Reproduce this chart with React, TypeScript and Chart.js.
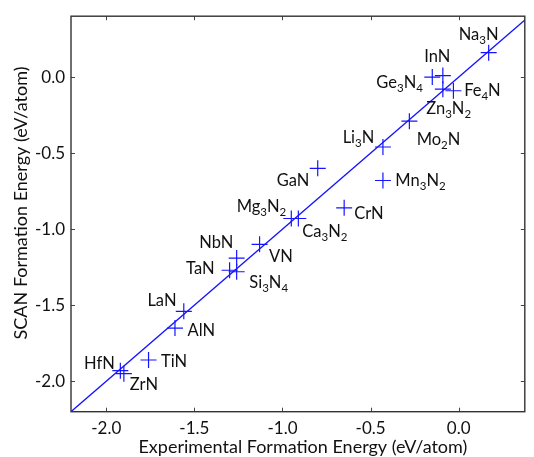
import React, { useEffect, useRef } from 'react';
import { Chart, registerables } from 'chart.js';

Chart.register(...registerables);

// ---- data ----
const compounds = ['Na_3N', 'InN', 'Ge_3N_4', 'Zn_3N_2', 'Fe_4N', 'Mo_2N', 'Li_3N', 'GaN', 'Mn_3N_2', 'Mg_3N_2', 'Ca_3N_2', 'CrN', 'VN', 'NbN', 'TaN', 'Si_3N_4', 'LaN', 'AlN', 'TiN', 'HfN', 'ZrN'];
const experimentalEnergy = [0.17, -0.09, -0.15, -0.09, -0.03, -0.28, -0.43, -0.8, -0.43, -0.95, -0.91, -0.65, -1.13, -1.26, -1.3, -1.26, -1.56, -1.61, -1.76, -1.92, -1.9];
const scanEnergy = [0.16, 0.01, 0.0, -0.08, -0.09, -0.29, -0.46, -0.6, -0.68, -0.93, -0.93, -0.86, -1.1, -1.19, -1.27, -1.28, -1.54, -1.65, -1.86, -1.93, -1.95];
const parityEnds = [-2.2, 0.4];
const xTickValues = [-2.0, -1.5, -1.0, -0.5, 0.0];
const yTickValues = [-2.0, -1.5, -1.0, -0.5, 0.0];
const xTitle = 'Experimental Formation Energy (eV/atom)';
const yTitle = 'SCAN Formation Energy (eV/atom)';

// ---- label placement (pixel offsets from the point; baseline) ----
const labelPlacement: [number, number, CanvasTextAlign][] = [
  [-10, -13, 'center'],
  [-5.5, -13.4, 'center'],
  [-9.3, 11, 'right'],
  [5.8, 25, 'center'],
  [10.7, 5, 'left'],
  [7.3, 23.7, 'left'],
  [-8.6, -4.3, 'right'],
  [-8.3, 17.6, 'right'],
  [12.4, 6, 'left'],
  [-5, -7, 'right'],
  [4, 18.3, 'left'],
  [10, 11.6, 'left'],
  [9.4, 17.3, 'left'],
  [-3.3, -10, 'right'],
  [-15, 4, 'right'],
  [12.7, 16.6, 'left'],
  [-7.3, -5.7, 'right'],
  [12.6, 7.7, 'left'],
  [12.4, 7.3, 'left'],
  [-5.6, -1.7, 'right'],
  [6, 16, 'left'],
];

const FONT = 'Lato, "Open Sans", sans-serif';
const BLUE = 'rgb(20,20,255)';
const TEXT = '#111';

function parseFormula(s: string): { t: string; sub: boolean }[] {
  const out: { t: string; sub: boolean }[] = [];
  let i = 0;
  while (i < s.length) {
    if (s[i] === '_') {
      out.push({ t: s[i + 1], sub: true });
      i += 2;
    } else {
      let j = i;
      while (j < s.length && s[j] !== '_') j++;
      out.push({ t: s.slice(i, j), sub: false });
      i = j;
    }
  }
  return out;
}

const MAIN_SIZE = 16.5;
const SUB_SIZE = 11.5;
const SUB_SHIFT = 4;

const decorPlugin = {
  id: 'decor',
  afterDatasetsDraw(chart: any) {
    const { ctx, chartArea } = chart;
    const { left, right, top, bottom } = chartArea;
    const xs = chart.scales.x;
    const ys = chart.scales.y;
    ctx.save();
    // inward ticks on all four sides
    ctx.strokeStyle = '#444';
    ctx.lineWidth = 1;
    const tl = 4;
    ctx.beginPath();
    xs.ticks.forEach((t: any) => {
      const p = Math.round(xs.getPixelForValue(t.value)) + 0.5;
      ctx.moveTo(p, bottom);
      ctx.lineTo(p, bottom - tl);
      ctx.moveTo(p, top);
      ctx.lineTo(p, top + tl);
    });
    ys.ticks.forEach((t: any) => {
      const p = Math.round(ys.getPixelForValue(t.value)) + 0.5;
      ctx.moveTo(left, p);
      ctx.lineTo(left + tl, p);
      ctx.moveTo(right, p);
      ctx.lineTo(right - tl, p);
    });
    ctx.stroke();
    // frame
    ctx.strokeStyle = '#333';
    ctx.lineWidth = 1.4;
    ctx.strokeRect(left, top, right - left, bottom - top);

    // point labels with subscripts
    ctx.fillStyle = TEXT;
    ctx.textBaseline = 'alphabetic';
    ctx.textAlign = 'left';
    compounds.forEach((name, i) => {
      const px = xs.getPixelForValue(experimentalEnergy[i]);
      const py = ys.getPixelForValue(scanEnergy[i]);
      const [dx, dy, align] = labelPlacement[i];
      const parts = parseFormula(name);
      let w = 0;
      parts.forEach((p) => {
        ctx.font = `${p.sub ? SUB_SIZE : MAIN_SIZE}px ${FONT}`;
        w += ctx.measureText(p.t).width;
      });
      let x = px + dx;
      if (align === 'center') x -= w / 2;
      else if (align === 'right') x -= w;
      const y = py + dy;
      parts.forEach((p) => {
        ctx.font = `${p.sub ? SUB_SIZE : MAIN_SIZE}px ${FONT}`;
        ctx.fillText(p.t, x, p.sub ? y + SUB_SHIFT : y);
        x += ctx.measureText(p.t).width;
      });
    });

    // axis titles
    ctx.font = `18px ${FONT}`;
    ctx.textAlign = 'center';
    ctx.textBaseline = 'alphabetic';
    ctx.fillText(xTitle, (left + right) / 2 + 5, 452.5);
    ctx.translate(26.5, (top + bottom) / 2 - 11);
    ctx.rotate(-Math.PI / 2);
    ctx.fillText(yTitle, 0, 0);
    ctx.restore();
  },
};

export default function App() {
  const ref = useRef<HTMLCanvasElement>(null);
  useEffect(() => {
    if (!ref.current) return;
    const chart = new Chart(ref.current, {
      type: 'scatter',
      data: {
        datasets: [
          {
            label: 'y = x',
            data: parityEnds.map((v) => ({ x: v, y: v })),
            showLine: true,
            borderColor: BLUE,
            borderWidth: 1.3,
            pointRadius: 0,
            pointHoverRadius: 0,
          },
          {
            label: 'nitrides',
            data: experimentalEnergy.map((x, i) => ({ x, y: scanEnergy[i] })),
            pointStyle: 'cross',
            pointRadius: 8,
            pointBorderColor: BLUE,
            pointBorderWidth: 1.2,
            borderColor: BLUE,
            backgroundColor: BLUE,
            showLine: false,
          },
        ],
      },
      options: {
        animation: false,
        responsive: false,
        maintainAspectRatio: false,
        devicePixelRatio: 1,
        layout: { padding: { left: 0, right: 0.7, top: 12.7, bottom: 0 } },
        plugins: { legend: { display: false }, tooltip: { enabled: false } },
        scales: {
          x: {
            type: 'linear',
            min: -2.2,
            max: 0.375,
            grid: { display: false, drawTicks: false },
            border: { display: false },
            afterBuildTicks: (s: any) => {
              s.ticks = xTickValues.map((v) => ({ value: v }));
            },
            afterFit: (s: any) => {
              s.height = 45.3;
            },
            ticks: {
              padding: 7,
              color: TEXT,
              font: { family: FONT, size: 17 },
              callback: (v: any) => Number(v).toFixed(1),
            },
          },
          y: {
            type: 'linear',
            min: -2.2,
            max: 0.4,
            grid: { display: false, drawTicks: false },
            border: { display: false },
            afterBuildTicks: (s: any) => {
              s.ticks = yTickValues.map((v) => ({ value: v }));
            },
            afterFit: (s: any) => {
              s.width = 71;
            },
            ticks: {
              padding: 6,
              color: TEXT,
              font: { family: FONT, size: 17 },
              callback: (v: any) => Number(v).toFixed(1),
            },
          },
        },
      },
      plugins: [decorPlugin],
    });
    return () => chart.destroy();
  }, []);
  return (
    <div style={{ position: 'fixed', left: 0, top: 0, width: 534, height: 457, background: '#fff' }}>
      <canvas ref={ref} width={534} height={457} style={{ display: 'block' }} />
    </div>
  );
}
